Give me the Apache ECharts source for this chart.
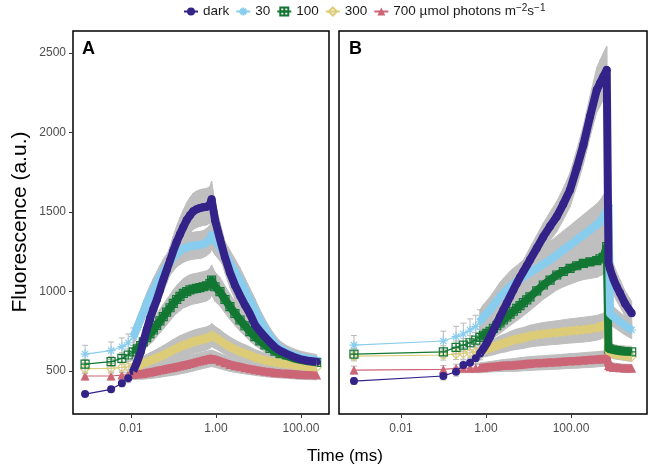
<!DOCTYPE html>
<html>
<head>
<meta charset="utf-8">
<script src="https://cdn.jsdelivr.net/npm/echarts@6/dist/echarts.min.js"></script>
<style>
html,body{margin:0;padding:0;background:#fff;}
#chart{width:649px;height:469px;}
</style>
</head>
<body>
<div id="chart"></div>
<script>
// ---------------- DATA ----------------
const seriesNames = ['dark', '30', '100', '300', '700'];
const xTickValues = [0.01, 1, 100];
const yTickValues = [500, 1000, 1500, 2000, 2500];

// Panel A (time, ms)
const tA = [0.00083, 0.0034, 0.0061, 0.0086, 0.0113, 0.0141, 0.0169, 0.0195, 0.0234, 0.028, 0.0335, 0.0402, 0.048, 0.0575, 0.069, 0.083, 0.099, 0.119, 0.142, 0.17, 0.205, 0.245, 0.292, 0.351, 0.42, 0.5, 0.6, 0.72, 0.79, 0.95, 1.24, 1.63, 2.13, 2.8, 3.67, 4.81, 6.3, 8.27, 10.8, 14.2, 18.7, 24.4, 32.1, 46.1, 65.9, 94.7, 146, 234];
const darkA = [355, 385, 423, 455, 500, 560, 620, 684, 760, 830, 890, 946, 1010, 1075, 1135, 1195, 1255, 1313, 1360, 1405, 1450, 1480, 1505, 1517, 1525, 1530, 1533, 1545, 1580, 1450, 1330, 1215, 1120, 1040, 975, 915, 860, 790, 750, 715, 680, 650, 628, 608, 590, 575, 565, 558];
const blueA = [607, 628, 653, 678, 716, 775, 830, 870, 926, 970, 1012, 1052, 1090, 1125, 1156, 1185, 1213, 1240, 1255, 1268, 1278, 1284, 1288, 1291, 1293, 1298, 1310, 1330, 1355, 1320, 1282, 1230, 1177, 1125, 1072, 1010, 947, 885, 821, 765, 716, 675, 643, 618, 601, 588, 578, 569];
const greenA = [544, 559, 580, 601, 621, 640, 660, 684, 710, 735, 758, 787, 815, 842, 870, 898, 926, 950, 970, 989, 1000, 1010, 1016, 1020, 1025, 1030, 1035, 1050, 1072, 1030, 999, 950, 905, 862, 821, 785, 748, 716, 690, 665, 643, 625, 610, 595, 580, 570, 562, 555];
const yellowA = [515, 517, 523, 527, 530, 535, 540, 548, 556, 565, 574, 582, 590, 600, 611, 622, 633, 643, 652, 661, 668, 676, 684, 690, 695, 700, 705, 715, 726, 712, 692, 670, 652, 636, 622, 611, 600, 585, 577, 566, 560, 555, 550, 544, 538, 532, 527, 523];
const redA = [469, 469, 475, 477, 479, 481, 483, 485, 489, 493, 497, 502, 506, 510, 515, 519, 523, 527, 532, 537, 542, 547, 552, 558, 563, 568, 573, 578, 580, 574, 563, 552, 542, 534, 527, 520, 514, 508, 503, 498, 494, 490, 487, 484, 481, 478, 476, 475];
const sdDarkA = [15, 18, 22, 28, 35, 40, 45, 50, 55, 60, 65, 70, 75, 80, 85, 90, 95, 100, 105, 108, 110, 112, 114, 115, 115, 115, 115, 115, 115, 110, 105, 100, 95, 90, 85, 80, 75, 70, 65, 60, 55, 50, 48, 45, 42, 40, 38, 35];
const sdBlueA = [55, 55, 55, 55, 55, 58, 60, 62, 65, 68, 70, 72, 75, 78, 80, 82, 84, 85, 85, 85, 85, 85, 85, 85, 85, 85, 85, 88, 90, 90, 88, 85, 82, 80, 78, 75, 72, 70, 65, 60, 55, 50, 46, 42, 40, 38, 36, 35];
const sdGreenA = [30, 32, 35, 38, 40, 45, 50, 55, 60, 65, 70, 72, 75, 78, 80, 82, 85, 88, 90, 92, 95, 95, 95, 95, 95, 95, 95, 95, 95, 92, 90, 85, 80, 75, 70, 65, 60, 55, 50, 47, 45, 42, 40, 38, 36, 35, 33, 32];
const sdYellowA = [30, 30, 32, 35, 38, 40, 42, 45, 48, 50, 52, 55, 58, 60, 62, 64, 66, 68, 70, 70, 72, 72, 73, 73, 73, 73, 73, 73, 73, 70, 68, 65, 62, 60, 57, 55, 52, 50, 48, 45, 42, 40, 38, 36, 34, 32, 30, 30];
const sdRedA = [25, 25, 25, 28, 30, 32, 34, 36, 38, 40, 42, 44, 45, 46, 47, 48, 49, 50, 50, 51, 52, 52, 52, 52, 52, 52, 52, 52, 52, 50, 48, 46, 44, 42, 40, 38, 36, 35, 34, 33, 32, 31, 30, 30, 30, 30, 30, 30];

// Panel B (time, ms)
const tB = [0.00078, 0.0989, 0.197, 0.292, 0.42, 0.573, 0.72, 0.864, 1.04, 1.24, 1.49, 1.79, 2.13, 2.55, 3.07, 3.67, 4.39, 5.28, 6.31, 7.55, 9.07, 10.8, 15.6, 22.3, 32.1, 46.1, 65.9, 94.7, 136, 195, 280, 403, 481, 575, 692, 763, 828, 989, 1190, 1422, 1865, 2680];
const darkB = [437, 469, 496, 538, 552, 580, 611, 640, 674, 715, 758, 800, 842, 884, 926, 968, 1010, 1052, 1090, 1125, 1162, 1198, 1272, 1345, 1410, 1471, 1550, 1639, 1775, 1920, 2100, 2267, 2310, 2351, 2393, 1180, 1140, 1080, 1030, 990, 925, 863];
const blueB = [663, 689, 716, 733, 758, 779, 810, 840, 862, 884, 912, 940, 967, 990, 1010, 1030, 1047, 1062, 1078, 1093, 1107, 1120, 1146, 1172, 1198, 1230, 1261, 1292, 1324, 1355, 1387, 1420, 1439, 1470, 1502, 1540, 860, 842, 825, 808, 785, 758];
const greenB = [607, 621, 649, 663, 678, 695, 712, 725, 737, 750, 768, 785, 802, 821, 840, 858, 876, 894, 912, 930, 948, 967, 1004, 1041, 1072, 1104, 1126, 1146, 1162, 1177, 1186, 1194, 1205, 1215, 1282, 640, 636, 632, 628, 625, 622, 620];
const yellowB = [594, 601, 607, 611, 615, 620, 625, 632, 638, 645, 652, 660, 668, 674, 680, 688, 695, 700, 704, 708, 714, 720, 727, 733, 738, 742, 747, 752, 756, 760, 765, 772, 778, 786, 800, 625, 618, 610, 605, 601, 596, 590];
const redB = [506, 510, 517, 517, 518, 519, 520, 523, 525, 527, 529, 531, 533, 535, 536, 537, 538, 540, 542, 544, 546, 547, 550, 552, 555, 557, 560, 563, 565, 568, 571, 574, 576, 578, 580, 535, 527, 524, 522, 520, 518, 517];
const sdDarkB = [20, 25, 28, 32, 35, 38, 40, 42, 45, 48, 50, 52, 55, 58, 60, 62, 65, 68, 70, 72, 75, 78, 82, 86, 90, 95, 100, 108, 115, 122, 130, 140, 145, 148, 150, 110, 100, 95, 90, 85, 80, 75];
const sdBlueB = [60, 62, 65, 68, 70, 72, 75, 78, 80, 82, 85, 88, 90, 92, 95, 98, 100, 100, 102, 104, 106, 108, 110, 112, 115, 118, 120, 122, 125, 128, 130, 132, 134, 136, 138, 140, 70, 65, 62, 60, 58, 55];
const sdGreenB = [35, 38, 40, 42, 45, 48, 50, 52, 55, 58, 60, 62, 65, 68, 70, 72, 75, 78, 80, 82, 84, 86, 88, 90, 92, 95, 97, 100, 100, 102, 104, 105, 106, 108, 110, 40, 38, 36, 35, 35, 35, 35];
const sdYellowB = [30, 32, 34, 36, 38, 40, 42, 44, 46, 48, 50, 52, 54, 56, 58, 60, 62, 64, 65, 66, 67, 68, 70, 72, 73, 74, 75, 76, 77, 78, 78, 78, 78, 78, 78, 35, 33, 32, 31, 30, 30, 30];
const sdRedB = [25, 25, 26, 27, 28, 29, 30, 31, 32, 33, 34, 35, 36, 37, 38, 39, 40, 41, 42, 42, 43, 43, 44, 44, 45, 45, 46, 46, 47, 47, 48, 48, 48, 48, 48, 30, 28, 27, 26, 25, 25, 25];

// ---------------- STYLE ----------------
const colors = ['#332288', '#88CCEE', '#117733', '#DDCC77', '#CC6677'];
const symbols = [
  'circle',
  'path://M5,0L5,10M0,5L10,5M1.5,1.5L8.5,8.5M1.5,8.5L8.5,1.5',
  'path://M0,0L10,0L10,10L0,10ZM5,0L5,10M0,5L10,5',
  'path://M5,0L10,5L5,10L0,5Z',
  'triangle'
];
const filled = [true, false, false, false, true];
const symSizes = [8, 9, 8, 9, 9];
const bandGrey = '#bfbfbf';
const FONT = 'Liberation Sans, Arial, Helvetica, sans-serif';

const panels = [
  { t: tA, vals: [darkA, blueA, greenA, yellowA, redA], sds: [sdDarkA, sdBlueA, sdGreenA, sdYellowA, sdRedA], dense: 4,
    xmin: Math.pow(10, -3.365), xmax: Math.pow(10, 2.66) },
  { t: tB, vals: [darkB, blueB, greenB, yellowB, redB], sds: [sdDarkB, sdBlueB, sdGreenB, sdYellowB, sdRedB], dense: 6,
    xmin: Math.pow(10, -3.46), xmax: Math.pow(10, 3.788) }
];

const grids = [
  { left: 73, top: 31, width: 256, height: 383 },
  { left: 339, top: 31, width: 308, height: 383 }
].map(g => Object.assign(g, { show: true, borderColor: '#000', borderWidth: 1.5, backgroundColor: 'transparent' }));

const xAxes = panels.map((p, i) => ({
  type: 'log', logBase: 10, gridIndex: i, min: p.xmin, max: p.xmax,
  axisLine: { show: false },
  splitLine: { show: false },
  axisTick: { show: true, customValues: xTickValues, length: 4, lineStyle: { color: '#333', width: 1 } },
  axisLabel: { customValues: xTickValues, color: '#4d4d4d', fontSize: 12, fontFamily: FONT, margin: 9,
    formatter: v => Number(v).toFixed(2) },
  minorTick: { show: false }
}));

const yAxes = panels.map((p, i) => ({
  type: 'value', gridIndex: i, min: 230, max: 2638,
  axisLine: { show: false },
  splitLine: { show: false },
  axisTick: { show: i === 0, customValues: yTickValues, length: 4, lineStyle: { color: '#333', width: 1 } },
  axisLabel: { show: i === 0, customValues: yTickValues, color: '#4d4d4d', fontSize: 12, fontFamily: FONT, margin: 7,
    formatter: v => String(v) }
}));

const series = [];
// draw order: red first ... dark last (on top)
const order = [4, 3, 2, 1, 0];

panels.forEach((p, pi) => {
  // grey SD bands in the dense region, as quads between consecutive points
  const quads = [];
  order.forEach(ci => {
    const v = p.vals[ci], sd = p.sds[ci];
    for (let k = p.dense; k < p.t.length - 1; k++) {
      quads.push([p.t[k], v[k] - sd[k], v[k] + sd[k], p.t[k + 1], v[k + 1] - sd[k + 1], v[k + 1] + sd[k + 1]]);
    }
  });
  series.push({
    type: 'custom', xAxisIndex: pi, yAxisIndex: pi, z: 1, silent: true, animation: false, clip: true,
    encode: { x: [0, 3], y: [1, 2, 4, 5] },
    data: quads,
    renderItem: (params, api) => {
      const a1 = api.coord([api.value(0), api.value(2)]);
      const b1 = api.coord([api.value(3), api.value(5)]);
      const b0 = api.coord([api.value(3), api.value(4)]);
      const a0 = api.coord([api.value(0), api.value(1)]);
      return { type: 'polygon', shape: { points: [a1, b1, b0, a0] },
        style: { fill: bandGrey, stroke: bandGrey, lineWidth: 1 } };
    }
  });
  // error bars for sparse early points
  const eb = [];
  order.forEach(ci => {
    const v = p.vals[ci], sd = p.sds[ci];
    for (let k = 0; k <= p.dense; k++) eb.push([p.t[k], v[k] - sd[k], v[k] + sd[k]]);
  });
  series.push({
    type: 'custom', xAxisIndex: pi, yAxisIndex: pi, z: 2, silent: true, animation: false,
    encode: { x: 0, y: [1, 2] },
    data: eb,
    renderItem: (params, api) => {
      const x = api.value(0);
      const a = api.coord([x, api.value(1)]);
      const b = api.coord([x, api.value(2)]);
      const w = 3;
      const st = { stroke: '#b8b8b8', lineWidth: 1 };
      return { type: 'group', children: [
        { type: 'line', shape: { x1: a[0], y1: a[1], x2: b[0], y2: b[1] }, style: st },
        { type: 'line', shape: { x1: a[0] - w, y1: a[1], x2: a[0] + w, y2: a[1] }, style: st },
        { type: 'line', shape: { x1: b[0] - w, y1: b[1], x2: b[0] + w, y2: b[1] }, style: st }
      ]};
    }
  });
  // thin lines with markers (legend series)
  order.forEach(ci => {
    const v = p.vals[ci];
    series.push({
      name: seriesNames[ci], type: 'line', xAxisIndex: pi, yAxisIndex: pi,
      data: p.t.map((t, k) => [t, v[k]]),
      symbol: symbols[ci], symbolSize: symSizes[ci], showSymbol: true, showAllSymbol: true,
      lineStyle: { color: colors[ci], width: 1.2 },
      itemStyle: filled[ci] ? { color: colors[ci], borderWidth: 0 } : { color: 'none', borderColor: colors[ci], borderWidth: 1.2 },
      z: 3, animation: false, emphasis: { disabled: true }
    });
  });
  // thick dense part
  order.forEach(ci => {
    const v = p.vals[ci];
    const d = [];
    for (let k = p.dense; k < p.t.length; k++) d.push([p.t[k], v[k]]);
    series.push({
      type: 'line', xAxisIndex: pi, yAxisIndex: pi, data: d, symbol: 'none',
      lineStyle: { color: colors[ci], width: 8, join: 'round' },
      z: 4, animation: false, silent: true, legendHoverLink: false
    });
  });
});

const chart = echarts.init(document.getElementById('chart'), null, { renderer: 'canvas' });
chart.setOption({
  backgroundColor: '#fff',
  animation: false,
  textStyle: { fontFamily: FONT },
  legend: {
    data: seriesNames,
    top: 3, left: 183, padding: 0,
    itemWidth: 14, itemHeight: 10, itemGap: 6,
    selectedMode: false,
    textStyle: {
      fontSize: 13.5, color: '#1a1a1a', fontFamily: FONT, lineHeight: 17,
      rich: { sup: { fontSize: 10, verticalAlign: 'top', lineHeight: 17, fontFamily: FONT, color: '#1a1a1a' } }
    },
    formatter: n => n === '700' ? '700 µmol photons m{sup|−2}s{sup|−1}' : n
  },
  grid: grids,
  xAxis: xAxes,
  yAxis: yAxes,
  series: series,
  graphic: [
    { type: 'text', x: 82, y: 40, style: { text: 'A', font: 'bold 18px ' + FONT, fill: '#000' }, z: 10 },
    { type: 'text', x: 349, y: 40, style: { text: 'B', font: 'bold 18px ' + FONT, fill: '#000' }, z: 10 },
    { type: 'text', x: 345, y: 456, style: { text: 'Time (ms)', font: '17px ' + FONT, fill: '#000', textAlign: 'center', textVerticalAlign: 'middle' } },
    { type: 'text', x: 20, y: 222, rotation: Math.PI / 2, style: { text: 'Fluorescence (a.u.)', font: '21px ' + FONT, fill: '#000', textAlign: 'center', textVerticalAlign: 'middle' } }
  ]
});
</script>
</body>
</html>
